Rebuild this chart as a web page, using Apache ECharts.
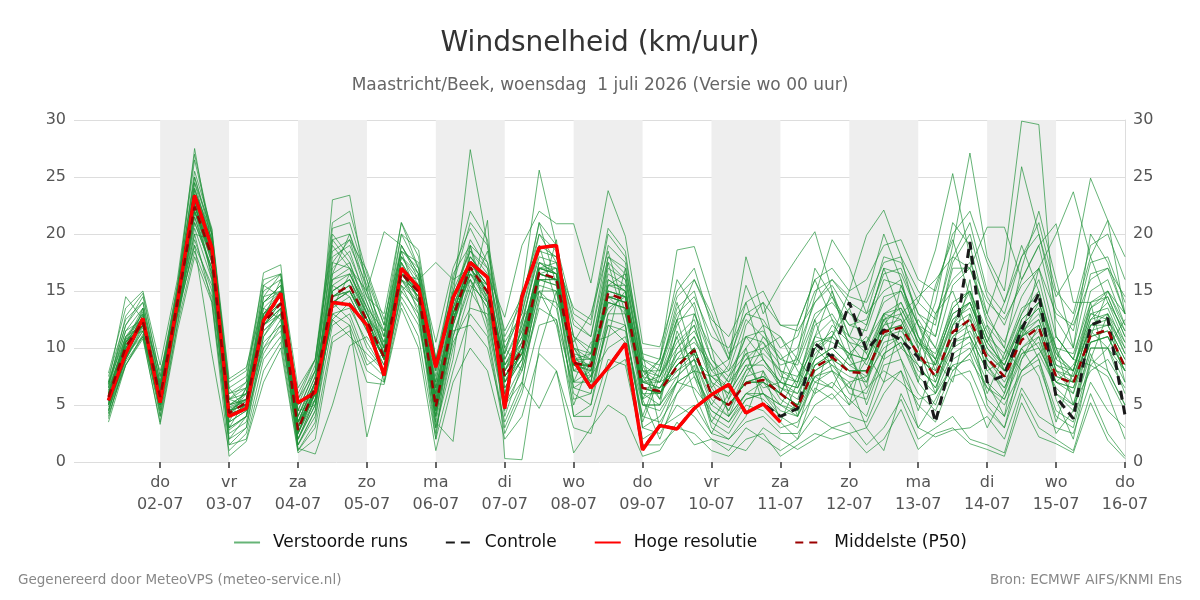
<!DOCTYPE html>
<html>
<head>
<meta charset="utf-8">
<script src="https://cdn.jsdelivr.net/npm/echarts@6/dist/echarts.min.js"></script>
<style>
  html, body { margin: 0; padding: 0; background: #fff; }
  #chart { width: 1200px; height: 600px; }
</style>
</head>
<body>
<div id="chart"></div>
<script>
// tick labels (day boundaries)
const tickDays = ['do', 'vr', 'za', 'zo', 'ma', 'di', 'wo', 'do', 'vr', 'za', 'zo', 'ma', 'di', 'wo', 'do']
const tickDates = ['02-07', '03-07', '04-07', '05-07', '06-07', '07-07', '08-07', '09-07', '10-07', '11-07', '12-07', '13-07', '14-07', '15-07', '16-07']
const shadedDays = ['02-07', '04-07', '06-07', '08-07', '10-07', '12-07', '14-07']

// 6-hourly values starting wo 01-07 06 uur
const hres = [5.4, 9.5, 12.6, 5.2, 14.0, 23.4, 18.8, 4.0, 4.7, 12.4,
    14.8, 5.2, 6.1, 14.0, 13.8, 12.0, 7.6, 17.0, 15.3, 8.3,
    14.4, 17.5, 16.2, 4.7, 14.5, 18.8, 19.0, 8.9, 6.5, 8.3,
    10.4, 1.05, 3.2, 2.9, 4.7, 5.9, 6.8, 4.3, 5.1, 3.5]

const control = [5.4, 9.5, 12.6, 5.2, 14.0, 23.4, 18.8, 4.0, 4.7, 12.4,
    14.8, 5.2, 6.1, 14.0, 13.8, 12.0, 7.6, 17.0, 15.3, 8.3,
    14.4, 17.5, 16.2, 4.7, 14.5, 18.8, 19.0, 8.9, 6.5, 8.3,
    10.4, 1.1, 3.2, 2.9, 4.7, 5.9, 6.8, 4.3, 5.1, 4.0,
    4.7, 10.4, 9.2, 14.0, 9.8, 11.6, 10.7, 9.2, 3.5, 9.5,
    19.3, 7.0, 7.6, 11.6, 14.8, 5.7, 3.8, 12.0, 12.6, 4.1]

const median = [5.7, 10.1, 12.3, 5.7, 14.0, 22.4, 18.0, 4.3, 5.2, 12.2,
    13.9, 2.8, 6.6, 14.6, 15.5, 12.4, 9.2, 16.6, 14.9, 4.8,
    12.7, 17.1, 14.9, 7.5, 9.8, 16.6, 16.1, 8.7, 8.4, 14.8,
    14.2, 6.5, 6.2, 8.4, 9.8, 5.9, 5.0, 6.9, 7.2, 6.0,
    4.8, 8.3, 9.2, 7.9, 7.8, 11.4, 11.8, 9.5, 7.5, 11.4,
    12.5, 9.1, 7.5, 10.7, 11.8, 7.5, 6.9, 11.1, 11.6, 8.3]

const members = [
    [6.2, 11.0, 13.0, 6.0, 14.5, 24.0, 19.0, 4.8, 5.5, 13.0, 14.5, 3.5, 7.0, 17.0, 18.5, 14.0, 10.0, 18.0, 15.5, 5.5, 13.5, 18.0, 16.0, 8.0, 11.0, 17.5, 16.5, 9.5, 7.0, 16.0, 15.0, 7.5, 5.5, 10.0, 12.0, 7.0, 4.5, 8.0, 9.0, 6.5, 5.5, 10.0, 11.5, 9.0, 7.0, 12.5, 13.0, 10.0, 6.0, 12.0, 14.0, 10.0, 8.5, 12.0, 13.5, 8.0, 6.0, 12.0, 13.0, 9.5],
    [4.0, 8.8, 11.0, 4.5, 12.5, 19.5, 15.0, 2.5, 3.5, 10.5, 12.0, 1.5, 4.0, 12.0, 13.0, 9.0, 7.5, 15.0, 13.0, 3.0, 10.0, 15.0, 12.5, 5.0, 7.0, 14.5, 14.0, 5.5, 6.0, 12.0, 11.5, 4.0, 3.5, 6.0, 7.5, 3.5, 2.5, 5.0, 4.5, 3.0, 3.5, 6.0, 7.0, 5.5, 4.0, 8.5, 9.0, 6.0, 4.5, 8.0, 9.5, 5.5, 4.0, 8.0, 9.0, 4.5, 3.5, 9.0, 8.0, 5.0],
    [7.5, 12.5, 14.0, 7.0, 15.5, 26.5, 20.0, 6.0, 7.0, 15.0, 16.0, 5.0, 8.5, 20.5, 21.0, 16.0, 12.0, 20.0, 17.0, 8.0, 15.5, 21.0, 19.0, 10.5, 13.0, 20.0, 18.5, 12.0, 11.0, 19.0, 17.5, 9.0, 8.0, 13.5, 15.0, 10.0, 8.0, 12.5, 11.0, 9.0, 10.0, 14.0, 15.5, 13.0, 12.0, 17.0, 16.5, 13.0, 11.0, 17.5, 20.0, 14.5, 12.0, 16.0, 19.0, 12.5, 10.0, 16.5, 17.0, 13.0],
    [5.0, 9.5, 12.0, 5.0, 13.5, 21.0, 17.0, 3.0, 4.0, 11.5, 13.0, 1.2, 0.7, 5.0, 10.2, 11.0, 8.5, 17.5, 14.0, 4.0, 12.0, 16.5, 15.0, 6.5, 9.0, 16.0, 15.5, 7.0, 8.0, 14.0, 13.5, 5.5, 6.5, 7.5, 9.0, 5.0, 4.0, 6.0, 7.0, 5.0, 4.0, 7.5, 8.0, 7.0, 7.5, 10.0, 11.0, 8.0, 7.0, 10.5, 11.0, 8.0, 6.5, 9.5, 10.0, 7.0, 6.5, 10.5, 11.0, 8.0],
    [6.5, 11.5, 12.5, 6.5, 15.0, 25.0, 20.0, 5.0, 6.0, 14.0, 15.5, 3.0, 6.0, 23.0, 23.4, 15.0, 9.5, 19.0, 16.0, 6.0, 14.0, 19.5, 17.0, 9.0, 12.5, 18.0, 17.5, 10.0, 9.0, 17.0, 16.0, 8.0, 7.0, 11.0, 12.5, 8.0, 6.5, 9.5, 10.0, 8.0, 7.0, 12.0, 13.0, 10.5, 10.0, 14.5, 15.0, 11.0, 9.0, 14.0, 15.0, 11.5, 9.0, 13.0, 15.0, 9.5, 8.0, 13.5, 14.5, 11.0],
    [4.5, 9.0, 11.5, 4.0, 13.0, 20.5, 16.0, 2.0, 3.0, 10.0, 12.5, 2.0, 5.0, 13.0, 12.0, 2.2, 8.0, 16.0, 13.5, 2.5, 11.0, 16.0, 13.5, 4.0, 8.5, 15.0, 13.5, 6.0, 5.0, 11.0, 12.0, 3.0, 4.0, 7.0, 8.0, 4.0, 3.0, 5.5, 6.0, 4.0, 3.0, 8.0, 9.0, 6.0, 5.5, 9.5, 10.5, 7.0, 5.0, 9.0, 10.0, 6.5, 5.5, 9.0, 11.0, 6.0, 4.5, 10.0, 10.0, 6.0],
    [6.0, 10.5, 13.5, 6.5, 14.0, 23.0, 18.5, 4.5, 5.0, 12.5, 14.0, 4.0, 7.5, 16.0, 17.0, 15.0, 20.2, 19.0, 16.5, 7.5, 14.5, 27.4, 19.0, 9.5, 15.0, 25.6, 19.0, 11.0, 9.5, 18.0, 16.5, 8.5, 7.5, 12.0, 14.0, 9.0, 7.0, 11.0, 10.5, 8.5, 9.0, 13.0, 14.0, 12.0, 11.5, 16.0, 15.5, 12.0, 10.0, 15.5, 17.0, 12.5, 10.5, 14.5, 17.0, 11.0, 9.0, 15.0, 16.0, 12.0],
    [5.5, 10.0, 12.0, 6.0, 14.0, 22.0, 17.5, 4.0, 5.0, 12.0, 13.5, 2.5, 6.5, 14.0, 15.0, 12.0, 9.0, 16.5, 16.0, 17.5, 16.0, 17.0, 14.0, 7.0, 9.5, 16.5, 16.0, 8.0, 8.5, 15.0, 14.5, 6.0, 6.0, 8.5, 10.0, 6.0, 5.0, 7.0, 7.5, 6.0, 5.0, 8.5, 9.5, 8.0, 8.0, 11.5, 12.0, 9.5, 7.5, 11.5, 12.5, 9.0, 7.5, 11.0, 12.0, 7.5, 7.0, 11.0, 11.5, 8.5],
    [5.0, 9.0, 12.5, 5.5, 14.5, 22.5, 18.0, 4.0, 6.0, 13.0, 14.0, 3.0, 6.0, 15.0, 16.0, 13.0, 10.5, 17.0, 15.0, 3.5, 1.8, 14.0, 21.2, 0.3, 0.2, 10.0, 15.0, 10.0, 7.5, 14.5, 13.0, 7.0, 6.5, 9.0, 9.5, 6.5, 4.5, 7.5, 8.0, 5.5, 4.5, 9.0, 10.0, 8.5, 9.0, 12.0, 12.5, 9.0, 8.0, 12.5, 13.5, 9.5, 8.0, 11.5, 12.5, 8.0, 7.5, 12.0, 12.0, 9.0],
    [6.5, 10.5, 12.0, 6.0, 14.0, 23.5, 19.5, 5.5, 6.5, 14.5, 15.0, 4.5, 8.0, 18.0, 19.0, 15.5, 11.0, 18.5, 17.0, 9.0, 15.0, 18.5, 16.5, 12.7, 19.0, 22.0, 20.9, 20.9, 15.7, 23.8, 19.8, 10.4, 10.1, 15.0, 17.0, 12.0, 9.0, 13.0, 12.5, 10.0, 11.0, 15.0, 16.0, 14.0, 13.0, 18.0, 17.5, 14.0, 12.5, 18.0, 21.0, 15.0, 13.0, 18.0, 20.0, 13.5, 11.5, 17.5, 18.0, 14.0],
    [4.5, 9.5, 11.0, 5.0, 13.0, 20.0, 14.0, 2.0, 4.0, 9.5, 12.0, 2.0, 5.5, 12.5, 14.0, 10.0, 8.0, 15.5, 12.5, 4.0, 11.5, 12.0, 10.0, 3.5, 7.0, 4.7, 8.0, 3.0, 2.5, 8.0, 9.0, 2.0, 3.0, 4.0, 5.0, 2.5, 2.0, 3.5, 4.0, 2.5, 2.5, 5.0, 6.0, 4.0, 3.5, 7.0, 8.0, 5.0, 3.5, 7.5, 8.0, 4.5, 3.0, 7.5, 8.5, 4.0, 3.0, 8.5, 7.5, 4.5],
    [5.5, 10.0, 12.5, 6.0, 13.0, 19.0, 9.5, 1.0, 2.5, 9.0, 11.0, 1.5, 4.5, 15.5, 14.5, 11.5, 9.5, 16.0, 14.5, 6.0, 13.0, 17.5, 15.5, 6.0, 10.0, 17.0, 17.0, 9.0, 9.5, 16.5, 15.5, 5.0, 5.0, 11.5, 8.0, 7.5, 6.0, 8.5, 6.5, 7.0, 6.5, 11.0, 10.5, 9.5, 6.5, 13.0, 12.5, 9.0, 8.5, 13.5, 15.0, 8.5, 6.0, 12.5, 14.0, 9.0, 8.0, 13.0, 12.5, 10.0],
    [6.0, 11.0, 12.5, 5.5, 14.5, 24.5, 19.0, 5.0, 5.5, 13.5, 15.0, 3.5, 7.0, 16.5, 17.5, 13.0, 9.5, 17.5, 15.0, 5.5, 13.0, 17.5, 15.5, 8.0, 11.5, 17.0, 17.5, 10.0, 8.0, 15.5, 15.5, 7.0, 7.5, 10.5, 12.0, 7.5, 6.5, 9.0, 9.5, 8.0, 7.5, 11.0, 12.5, 11.0, 10.5, 14.0, 15.0, 12.0, 11.0, 17.0, 17.0, 13.0, 17.7, 29.9, 29.6, 11.0, 9.0, 13.5, 15.0, 11.5],
    [6.8, 11.5, 13.5, 7.0, 15.0, 25.5, 20.5, 6.0, 6.5, 14.0, 15.5, 4.5, 8.0, 18.5, 19.5, 14.5, 11.0, 18.0, 16.0, 7.0, 14.0, 19.0, 17.5, 9.0, 12.0, 18.5, 18.0, 11.0, 10.0, 17.5, 16.0, 8.0, 8.0, 12.5, 13.0, 9.0, 7.5, 11.0, 11.5, 9.0, 8.5, 12.5, 14.5, 12.0, 12.5, 16.5, 17.0, 13.0, 12.0, 19.0, 27.1, 18.0, 15.0, 25.9, 20.0, 14.5, 17.0, 24.9, 21.2, 13.0],
    [5.0, 10.5, 12.0, 5.0, 13.5, 22.0, 18.5, 3.5, 4.5, 12.0, 14.0, 2.5, 6.0, 14.5, 15.5, 12.0, 9.0, 16.5, 15.5, 5.0, 12.5, 17.0, 15.0, 7.5, 10.0, 16.5, 16.0, 8.5, 8.0, 15.0, 14.5, 6.5, 6.0, 8.5, 10.0, 6.0, 5.0, 7.0, 7.5, 6.5, 6.0, 9.5, 11.0, 15.0, 19.9, 22.1, 18.0, 12.0, 9.0, 13.0, 14.0, 10.5, 8.5, 12.0, 13.5, 8.5, 8.0, 12.5, 13.0, 10.5],
    [5.8, 10.2, 12.0, 5.8, 14.0, 22.0, 17.8, 4.5, 5.5, 12.5, 14.0, 3.0, 6.5, 14.0, 15.0, 12.5, 9.0, 16.5, 14.5, 4.5, 12.5, 17.0, 15.0, 7.5, 9.5, 16.5, 16.0, 8.5, 8.5, 14.5, 14.0, 6.5, 6.5, 8.5, 10.0, 6.0, 5.0, 7.0, 7.0, 6.0, 5.0, 8.5, 9.0, 8.0, 8.0, 11.5, 12.0, 14.0, 18.6, 25.3, 18.0, 12.0, 8.0, 11.0, 12.0, 7.5, 7.0, 11.0, 11.5, 8.5],
    [4.8, 9.2, 11.5, 4.8, 13.0, 21.0, 17.0, 3.5, 4.5, 11.5, 13.0, 2.0, 5.5, 13.5, 14.5, 11.5, 8.5, 16.0, 14.0, 4.0, 12.0, 16.5, 14.0, 6.5, 9.0, 15.5, 15.0, 6.5, 6.0, 12.5, 12.0, 3.0, 2.5, 5.0, 4.0, 2.0, 1.0, 3.0, 2.0, 1.0, 2.0, 4.0, 3.0, 3.5, 1.5, 3.0, 5.5, 2.0, 3.0, 4.0, 2.0, 1.5, 0.8, 6.0, 3.0, 2.0, 1.0, 6.0, 2.5, 0.5],
    [6.0, 10.8, 13.0, 6.2, 14.5, 23.0, 18.5, 5.0, 5.5, 13.0, 14.5, 3.5, 7.0, 15.0, 16.0, 13.0, 10.0, 17.0, 15.5, 6.0, 13.0, 17.5, 15.5, 8.0, 10.5, 17.0, 16.5, 9.0, 9.0, 14.0, 13.5, 7.0, 7.0, 8.0, 9.0, 7.5, 8.0, 10.0, 12.0, 11.0, 9.0, 7.0, 6.5, 9.5, 11.0, 9.0, 10.0, 12.5, 10.0, 8.0, 9.5, 12.0, 10.0, 8.0, 9.5, 11.0, 9.0, 8.5, 10.0, 12.5],
    [5.2, 9.8, 12.0, 5.5, 14.0, 22.5, 18.0, 4.0, 5.0, 12.0, 14.0, 2.5, 6.0, 14.5, 15.5, 12.5, 9.0, 16.5, 15.0, 4.5, 12.5, 17.0, 15.0, 7.0, 9.5, 16.0, 16.0, 8.5, 8.0, 14.5, 14.5, 7.5, 9.0, 18.6, 18.9, 14.1, 9.5, 11.0, 9.0, 7.0, 6.0, 9.0, 10.0, 8.5, 7.5, 11.0, 11.5, 9.5, 7.5, 11.0, 12.0, 9.0, 7.0, 10.0, 11.5, 7.0, 6.5, 10.5, 11.0, 8.0],
    [6.3, 10.5, 12.5, 6.0, 14.5, 23.5, 19.0, 5.0, 6.0, 13.0, 14.5, 3.5, 7.0, 15.5, 16.5, 13.0, 9.5, 17.0, 15.5, 5.5, 13.0, 17.5, 15.5, 8.0, 10.0, 17.0, 16.5, 9.0, 8.5, 15.0, 14.5, 7.0, 6.5, 9.0, 11.0, 8.0, 9.0, 18.0, 13.0, 15.7, 18.0, 20.2, 15.0, 11.0, 9.5, 13.0, 14.0, 10.5, 9.0, 13.0, 14.0, 10.0, 8.0, 11.5, 13.0, 8.5, 7.5, 12.0, 12.5, 9.5],
    [5.5, 10.0, 12.5, 5.5, 14.0, 22.5, 18.0, 4.5, 5.0, 12.5, 14.0, 3.0, 6.5, 14.5, 15.0, 12.5, 9.0, 16.5, 15.0, 5.0, 12.5, 17.0, 15.0, 7.5, 9.5, 16.5, 16.0, 8.5, 8.5, 14.5, 14.0, 6.5, 6.0, 8.5, 10.0, 6.0, 5.0, 7.0, 7.0, 6.0, 9.0, 14.5, 19.5, 17.1, 13.0, 15.0, 16.0, 11.0, 8.5, 12.0, 13.0, 9.5, 8.0, 11.0, 12.5, 8.0, 7.0, 11.5, 12.0, 9.0],
    [6.0, 10.5, 12.0, 6.0, 14.0, 22.5, 18.0, 4.5, 5.5, 12.5, 14.0, 3.0, 6.5, 14.5, 15.5, 12.0, 9.0, 16.5, 15.0, 5.0, 12.5, 17.0, 15.0, 7.5, 10.0, 16.5, 16.0, 8.5, 8.5, 14.5, 14.0, 6.5, 6.0, 8.5, 9.5, 6.0, 5.0, 7.0, 7.5, 6.0, 5.0, 8.5, 9.5, 8.0, 8.0, 11.0, 12.0, 9.5, 7.5, 11.0, 12.5, 9.0, 7.5, 11.0, 17.0, 20.0, 23.7, 18.0, 21.2, 18.0],
    [5.5, 10.0, 12.0, 5.5, 14.0, 22.0, 18.0, 4.5, 5.0, 12.0, 13.5, 3.0, 6.5, 14.0, 15.0, 12.0, 9.0, 16.5, 14.5, 5.0, 12.5, 16.5, 14.5, 7.5, 9.5, 16.0, 16.0, 8.5, 8.5, 14.5, 14.0, 6.5, 6.0, 8.0, 9.5, 6.0, 5.0, 7.0, 7.0, 6.0, 5.0, 8.0, 9.0, 8.0, 8.0, 11.0, 13.0, 14.5, 16.0, 18.0, 17.0, 20.6, 20.6, 16.0, 19.0, 20.9, 14.0, 14.0, 15.0, 13.0],
    [4.2, 8.5, 10.8, 3.5, 12.0, 18.5, 14.5, 1.5, 2.0, 8.0, 10.5, 1.0, 3.0, 11.0, 12.0, 8.0, 7.0, 14.0, 11.0, 2.0, 8.0, 13.0, 11.0, 2.5, 6.0, 12.0, 12.5, 4.0, 4.0, 9.0, 8.5, 1.5, 1.5, 3.0, 2.5, 1.0, 0.5, 2.0, 2.5, 0.5, 1.5, 2.5, 2.0, 2.5, 0.8, 2.0, 4.6, 1.1, 2.5, 3.0, 1.6, 1.1, 0.5, 5.2, 2.2, 1.6, 0.8, 5.2, 1.9, 0.3],
    [7.0, 12.0, 14.5, 7.5, 15.5, 25.0, 19.5, 6.5, 7.5, 15.5, 16.5, 5.5, 9.0, 19.5, 20.0, 15.0, 11.5, 19.0, 16.5, 8.5, 14.5, 18.5, 17.0, 10.0, 13.0, 19.0, 18.0, 12.5, 11.0, 18.0, 17.0, 9.0, 8.5, 13.0, 14.5, 11.0, 10.0, 13.0, 14.0, 12.0, 11.5, 14.0, 16.0, 14.5, 14.0, 17.5, 18.0, 15.0, 13.0, 16.0, 17.5, 14.0, 12.5, 15.5, 17.0, 13.0, 12.0, 16.0, 17.0, 14.5],
    [5.0, 9.0, 12.0, 5.0, 13.0, 21.5, 17.0, 3.0, 4.0, 11.0, 13.0, 2.0, 5.0, 13.0, 13.5, 10.5, 8.0, 15.5, 14.0, 3.5, 11.0, 15.5, 14.0, 5.5, 8.5, 15.0, 15.0, 7.0, 7.0, 13.0, 13.0, 5.0, 5.0, 7.0, 8.0, 4.5, 3.5, 5.5, 6.0, 4.5, 4.0, 7.0, 8.0, 6.5, 6.0, 9.5, 10.5, 7.5, 6.0, 9.5, 10.5, 7.0, 5.5, 9.5, 10.5, 6.0, 5.0, 10.0, 10.0, 7.0],
    [6.0, 10.2, 12.8, 6.5, 14.5, 23.0, 18.0, 5.5, 6.0, 13.0, 15.0, 4.0, 7.5, 16.0, 16.5, 13.5, 10.0, 17.5, 15.0, 6.5, 13.5, 18.0, 16.0, 8.5, 11.0, 17.5, 16.5, 9.5, 9.0, 15.5, 15.0, 8.0, 7.5, 10.0, 11.5, 8.5, 7.0, 9.0, 10.5, 7.5, 7.0, 10.5, 11.0, 9.5, 9.0, 12.5, 13.5, 10.5, 9.5, 13.5, 15.0, 11.0, 9.5, 13.5, 14.5, 10.0, 9.5, 14.0, 14.5, 11.0],
    [6.8, 12.0, 14.0, 6.8, 15.0, 24.0, 19.5, 5.5, 7.0, 16.6, 17.3, 4.0, 7.0, 17.5, 17.0, 14.0, 10.5, 18.0, 16.5, 6.5, 13.0, 18.0, 16.0, 8.5, 10.5, 17.5, 17.0, 10.0, 9.5, 16.0, 15.0, 7.5, 7.0, 9.5, 11.0, 7.0, 6.0, 8.5, 8.5, 7.0, 6.5, 10.0, 11.0, 9.5, 9.0, 13.0, 13.5, 10.5, 8.5, 12.5, 14.0, 10.5, 8.5, 12.5, 14.0, 9.5, 8.0, 13.0, 13.5, 10.0],
    [3.5, 8.5, 11.0, 3.3, 11.5, 18.0, 14.0, 0.5, 1.8, 7.0, 10.0, 0.8, 2.0, 10.5, 11.5, 7.0, 6.8, 13.5, 10.0, 1.0, 7.0, 10.0, 8.0, 2.0, 4.0, 9.5, 8.0, 0.8, 3.0, 5.0, 4.0, 0.5, 1.0, 3.5, 1.5, 2.0, 1.5, 1.0, 3.0, 2.0, 1.1, 2.0, 3.0, 2.5, 3.0, 1.0, 6.0, 3.0, 2.2, 2.8, 3.0, 4.0, 2.0, 6.5, 4.0, 3.0, 2.5, 7.0, 4.5, 3.0],
    [7.8, 13.5, 15.0, 8.5, 16.0, 27.0, 20.0, 7.0, 8.0, 16.0, 16.5, 6.5, 9.0, 21.0, 22.0, 16.5, 12.0, 21.0, 18.0, 9.0, 16.0, 22.0, 19.5, 11.0, 14.0, 21.0, 19.0, 13.0, 12.0, 20.0, 18.0, 9.5, 9.0, 14.5, 16.0, 12.5, 11.0, 14.0, 15.0, 12.0, 12.0, 16.0, 17.0, 15.0, 16.0, 19.0, 19.5, 16.0, 15.0, 20.0, 22.0, 17.5, 14.0, 18.0, 21.0, 15.0, 13.0, 19.0, 20.0, 16.0],
    [5.3, 9.0, 11.8, 6.5, 14.5, 24.5, 20.4, 7.3, 8.3, 14.0, 15.0, 6.0, 9.0, 19.0, 17.0, 12.5, 11.0, 20.0, 18.6, 9.0, 13.0, 16.0, 13.5, 6.0, 12.0, 19.0, 14.0, 11.0, 6.5, 12.0, 10.5, 4.0, 8.0, 14.0, 9.0, 3.5, 6.0, 12.0, 14.0, 8.0, 4.0, 11.0, 15.0, 10.0, 5.0, 9.0, 15.5, 12.0, 8.0, 10.0, 16.0, 7.0, 4.0, 12.0, 9.0, 3.5, 8.0, 14.0, 8.0, 5.0],
    [7.0, 14.5, 12.5, 8.0, 13.0, 20.0, 19.5, 3.5, 6.5, 13.5, 12.5, 4.5, 5.0, 17.5, 19.5, 16.8, 12.5, 18.5, 14.0, 7.0, 15.0, 15.0, 18.5, 10.0, 8.0, 14.0, 19.5, 7.0, 10.5, 11.0, 17.0, 9.5, 3.0, 7.0, 13.0, 10.0, 4.0, 7.5, 10.0, 11.0, 8.0, 6.0, 11.0, 13.5, 9.5, 7.0, 12.0, 7.0, 13.0, 15.0, 11.0, 6.0, 9.5, 13.0, 16.0, 10.0, 5.0, 11.0, 15.0, 12.0],
    [3.8, 9.2, 13.5, 4.0, 12.0, 22.0, 16.5, 2.8, 4.0, 12.5, 16.0, 1.5, 4.5, 13.5, 16.5, 13.5, 7.0, 15.0, 16.5, 3.0, 9.0, 19.0, 12.0, 4.5, 12.5, 15.0, 12.0, 5.0, 9.0, 17.5, 12.0, 3.5, 7.5, 11.0, 6.0, 2.5, 5.5, 10.0, 5.0, 3.5, 7.0, 12.5, 8.0, 5.0, 10.5, 13.0, 9.0, 4.5, 9.0, 7.0, 13.0, 5.0, 3.0, 9.0, 12.0, 5.5, 2.0, 9.0, 13.0, 7.0],
    [6.6, 12.8, 14.8, 7.5, 15.0, 27.5, 19.0, 5.5, 5.0, 15.5, 14.5, 5.5, 8.0, 20.0, 18.0, 14.5, 13.0, 21.0, 17.0, 10.5, 17.0, 20.5, 17.5, 11.5, 14.5, 20.0, 17.5, 13.5, 12.5, 20.5, 18.5, 8.5, 5.5, 12.5, 16.0, 13.0, 9.0, 15.5, 12.0, 6.0, 9.5, 17.0, 14.5, 11.0, 14.5, 20.0, 16.0, 10.0, 14.0, 21.0, 19.0, 13.0, 10.0, 17.0, 22.0, 16.0, 10.0, 20.0, 17.5, 13.0],
    [4.3, 10.8, 11.5, 4.5, 13.5, 21.5, 16.5, 1.5, 3.0, 11.0, 13.5, 1.0, 3.5, 14.0, 12.5, 8.5, 9.5, 17.0, 13.0, 2.0, 14.0, 16.0, 11.5, 3.0, 6.5, 17.0, 16.5, 4.0, 5.0, 13.0, 15.0, 5.5, 2.0, 6.0, 8.5, 3.0, 2.0, 4.0, 8.0, 3.5, 2.0, 6.5, 5.5, 7.0, 3.0, 6.0, 8.0, 3.0, 5.5, 8.5, 7.0, 3.0, 6.0, 10.0, 7.5, 2.5, 4.5, 9.5, 6.0, 2.0],
    [5.8, 10.3, 13.2, 5.2, 14.0, 23.8, 20.0, 6.5, 4.5, 14.5, 16.5, 3.5, 5.5, 19.5, 17.5, 13.5, 11.5, 18.5, 17.5, 8.0, 16.5, 19.0, 14.0, 9.5, 13.5, 21.0, 15.5, 10.5, 13.0, 18.5, 13.0, 7.0, 9.0, 16.0, 13.5, 6.5, 8.5, 14.0, 9.0, 7.0, 12.0, 16.0, 12.5, 9.0, 12.0, 17.0, 13.0, 9.0, 15.5, 19.5, 14.5, 10.5, 14.0, 19.0, 15.0, 9.0, 12.5, 18.0, 14.0, 10.5],
    [6.9, 11.0, 12.0, 6.8, 14.5, 23.0, 16.0, 4.0, 6.5, 12.0, 13.0, 3.5, 6.0, 16.5, 20.0, 16.0, 10.0, 16.0, 15.0, 6.5, 13.5, 16.5, 15.5, 8.5, 11.5, 16.5, 17.0, 9.0, 7.0, 15.5, 16.5, 8.0, 6.0, 9.5, 10.5, 8.5, 5.5, 8.0, 11.0, 9.5, 6.5, 9.0, 12.0, 10.5, 8.5, 12.0, 14.0, 11.0, 7.0, 12.0, 15.0, 11.0, 8.0, 11.0, 14.0, 10.0, 7.0, 12.5, 14.0, 11.5],
    [4.6, 8.5, 11.2, 5.5, 13.0, 19.0, 15.5, 3.0, 5.5, 10.0, 11.5, 2.5, 5.5, 12.5, 11.0, 9.5, 8.0, 14.5, 12.0, 4.5, 10.5, 13.5, 13.0, 5.0, 8.0, 13.5, 12.5, 6.5, 7.5, 10.0, 11.0, 5.0, 4.5, 7.0, 6.5, 4.5, 3.5, 6.0, 5.5, 4.0, 5.0, 7.5, 6.5, 5.0, 6.5, 8.0, 7.0, 5.5, 6.0, 8.5, 9.0, 6.5, 5.0, 8.0, 9.5, 6.5, 5.0, 8.0, 9.0, 6.5],
    [5.6, 10.6, 12.4, 5.9, 14.0, 22.8, 18.2, 4.7, 5.3, 12.8, 14.5, 3.2, 6.8, 15.0, 16.0, 12.5, 9.5, 17.0, 15.0, 5.0, 12.0, 17.5, 15.0, 7.0, 10.5, 17.0, 16.5, 8.0, 9.5, 13.5, 14.5, 5.5, 8.5, 12.5, 7.5, 5.0, 7.5, 9.5, 6.0, 5.0, 7.5, 10.0, 8.5, 6.5, 9.0, 12.5, 10.0, 8.5, 6.5, 10.0, 11.0, 8.0, 9.0, 12.0, 10.0, 7.0, 8.5, 11.5, 10.0, 8.0],
    [5.1, 9.9, 12.9, 5.4, 14.0, 22.5, 17.5, 4.2, 4.8, 12.0, 13.5, 2.6, 6.2, 14.5, 15.0, 12.0, 9.0, 16.5, 14.5, 4.5, 12.0, 17.0, 14.5, 7.0, 9.0, 16.0, 15.5, 8.0, 7.5, 14.0, 13.5, 6.0, 5.0, 7.5, 9.0, 5.5, 4.0, 6.0, 6.0, 5.0, 4.5, 7.5, 8.5, 7.5, 7.0, 10.5, 11.0, 8.5, 6.5, 10.5, 11.5, 8.5, 6.5, 10.0, 11.0, 7.0, 6.0, 10.5, 11.0, 8.0]
]

// 6-hour time steps from di 30-06 18 uur to do 16-07 00 uur
const times = []
for (let k = 0; k < 62; k++) {
    const d = new Date(Date.UTC(2026, 5, 30, 18) + k * 6 * 3600 * 1000)
    const dd = String(d.getUTCDate()).padStart(2, '0')
    const mm = String(d.getUTCMonth() + 1).padStart(2, '0')
    const hh = String(d.getUTCHours()).padStart(2, '0')
    times.push(dd + '-' + mm + ' ' + hh)
}
const firstIdx = 2 // wo 01-07 06 uur

const toPairs = (arr) => arr.map((v, i) => [times[firstIdx + i], v])

const isDayTick = (idx, val) => val.slice(6) === '00' && tickDates.includes(val.slice(0, 5))

const bands = shadedDays.map(d => {
    const i = tickDates.indexOf(d)
    return [{ xAxis: d + ' 00' }, { xAxis: tickDates[i + 1] + ' 00' }]
})

const font = 'DejaVu Sans'
const green = 'rgba(30,145,55,0.68)'
const series = []
members.forEach((m, k) => {
    series.push({
        name: 'Verstoorde runs',
        type: 'line',
        data: toPairs(m),
        symbol: 'none',
        lineStyle: { width: 1, color: green },
        itemStyle: { color: green },
        z: 2,
        markArea: k === 0 ? { silent: true, itemStyle: { color: '#eeeeee' }, data: bands } : undefined
    })
})
series.push({
    name: 'Controle', type: 'line', data: toPairs(control), symbol: 'none', z: 3,
    lineStyle: { width: 3, color: '#1a1a1a', type: [9, 6] }, itemStyle: { color: '#1a1a1a' }
})
series.push({
    name: 'Hoge resolutie', type: 'line', data: toPairs(hres), symbol: 'none', z: 4,
    lineStyle: { width: 3.5, color: '#ff0000' }, itemStyle: { color: '#ff0000' }
})
series.push({
    name: 'Middelste (P50)', type: 'line', data: toPairs(median), symbol: 'none', z: 5,
    lineStyle: { width: 2.5, color: '#9b0000', type: [8, 6] }, itemStyle: { color: '#9b0000' }
})

const chart = echarts.init(document.getElementById('chart'), null, { renderer: 'canvas' })
chart.setOption({
    animation: false,
    textStyle: { fontFamily: font },
    title: [
        { text: 'Windsnelheid (km/uur)', left: 'center', top: 25, textStyle: { fontFamily: font, fontSize: 28, fontWeight: 'normal', color: '#333' } },
        { text: 'Maastricht/Beek, woensdag  1 juli 2026 (Versie wo 00 uur)', left: 'center', top: 72, textStyle: { fontFamily: font, fontSize: 17, fontWeight: 'normal', color: '#666' } }
    ],
    legend: {
        data: ['Verstoorde runs', 'Controle', 'Hoge resolutie', 'Middelste (P50)'],
        left: 'center', top: 529, itemWidth: 26, itemHeight: 14, itemGap: 37,
        itemStyle: { opacity: 0 },
        textStyle: { fontFamily: font, fontSize: 17, color: '#111', padding: [0, 0, 0, 8] }
    },
    grid: { left: 74, right: 75, top: 120, bottom: 138 },
    xAxis: {
        type: 'category',
        data: times,
        boundaryGap: false,
        axisLine: { show: false },
        axisTick: { show: true, interval: isDayTick, length: 6, lineStyle: { color: '#666', width: 2 } },
        axisLabel: {
            interval: isDayTick,
            fontFamily: font, fontSize: 16, color: '#555', lineHeight: 22, margin: 10,
            formatter: (val) => {
                const i = tickDates.indexOf(val.slice(0, 5))
                return tickDays[i] + '\n' + tickDates[i]
            }
        },
        splitLine: { show: false }
    },
    yAxis: [
        {
            type: 'value', min: 0, max: 30, interval: 5, position: 'left',
            axisLine: { show: false }, axisTick: { show: false },
            axisLabel: { fontFamily: font, fontSize: 16, color: '#555', margin: 8 },
            splitLine: { lineStyle: { color: '#dddddd', width: 1 } }
        },
        {
            type: 'value', min: 0, max: 30, interval: 5, position: 'right',
            axisLine: { show: true, lineStyle: { color: '#dddddd' } }, axisTick: { show: false },
            axisLabel: { fontFamily: font, fontSize: 16, color: '#555', margin: 8 },
            splitLine: { show: false }
        }
    ],
    series: series,
    graphic: [
        { type: 'text', left: 18, top: 573, style: { text: 'Gegenereerd door MeteoVPS (meteo-service.nl)', font: '13.5px "DejaVu Sans"', fill: '#888' } },
        { type: 'text', right: 18, top: 573, style: { text: 'Bron: ECMWF AIFS/KNMI Ens', font: '13.5px "DejaVu Sans"', fill: '#888' } }
    ]
})
</script>
</body>
</html>
